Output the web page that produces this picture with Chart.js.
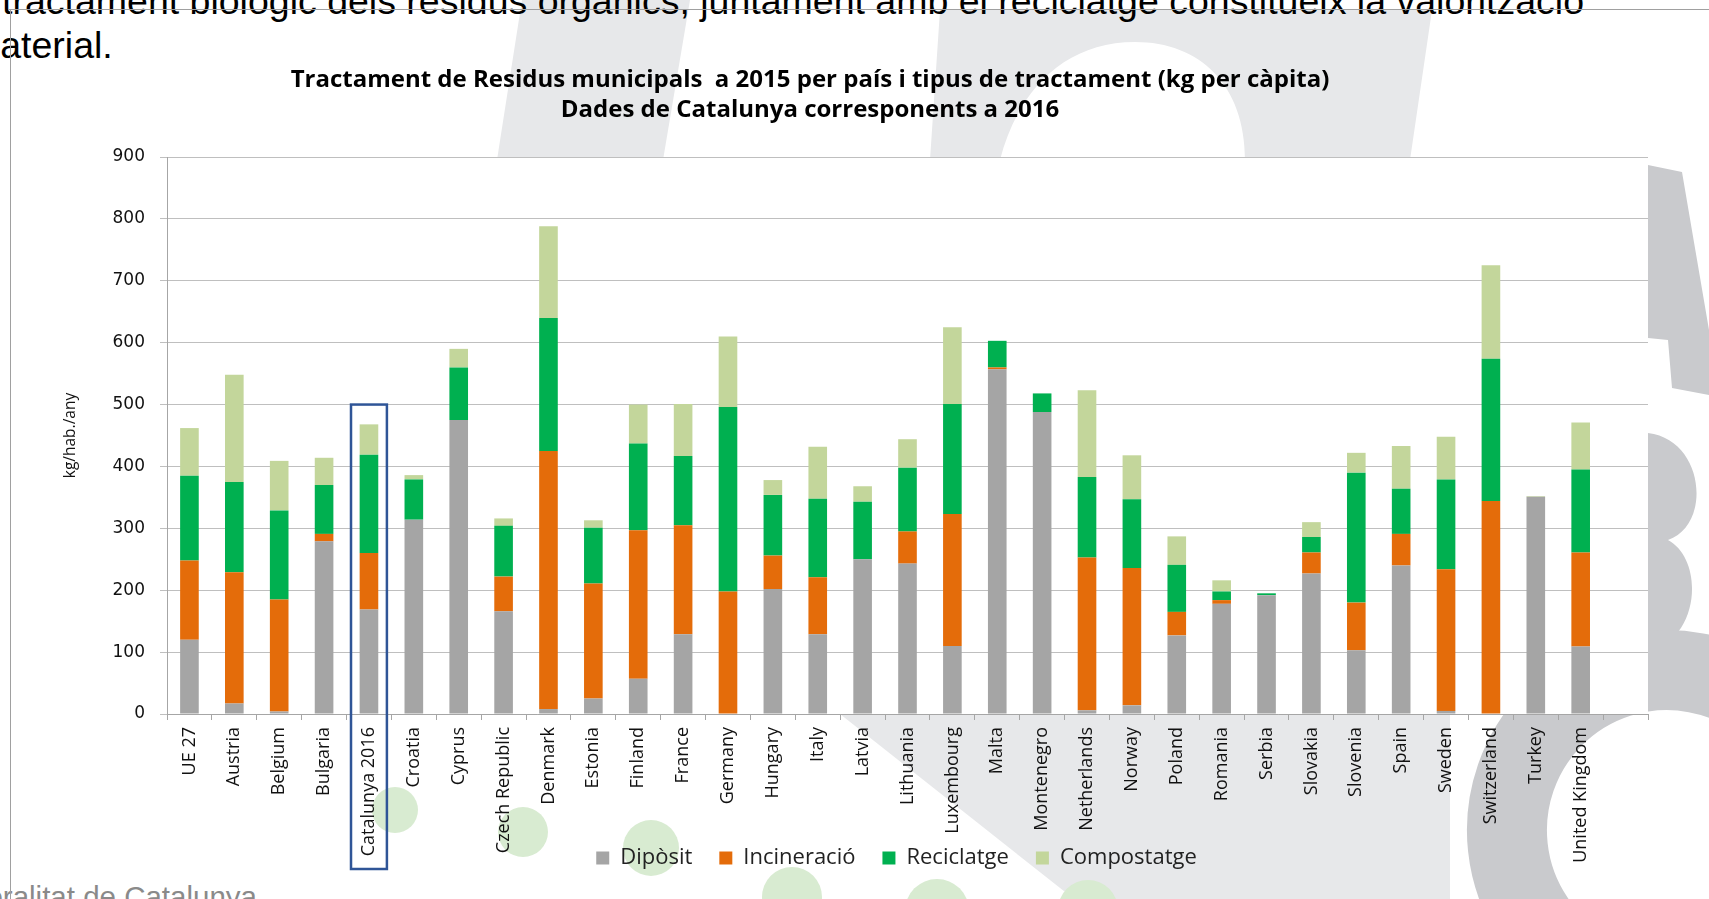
<!DOCTYPE html>
<html>
<head>
<meta charset="utf-8">
<script src="https://cdn.jsdelivr.net/npm/chart.js@4.4.1/dist/chart.umd.min.js"></script>
<style>
  html, body { margin: 0; padding: 0; width: 1709px; height: 899px; overflow: hidden; background: #fff; }
  #bg { position: absolute; left: 0; top: 0; }
  #chartBox { position: absolute; left: -28px; top: 0; width: 1737px; height: 899px; }
  .txt { position: absolute; font-family: "Liberation Sans", Arial, sans-serif; white-space: nowrap; }
  #line1 { left: 2px; top: -21px; font-size: 37.5px; line-height: 44px; color: #000; }
  #line2 { left: -31px; top: 23px; font-size: 37.5px; line-height: 44px; color: #000; }
  #footer { right: 1452px; top: 881px; font-size: 29.5px; line-height: 31px; color: #8a8a8a; }
  #hline { position: absolute; left: 8px; top: 9px; width: 1701px; height: 1px; background: #a0a0a0; }
  #vline { position: absolute; left: 10px; top: 9px; width: 1px; height: 890px; background: #a0a0a0; }
</style>
</head>
<body>

<svg id="bg" width="1709" height="899" viewBox="0 0 1709 899">
  <g fill="#e7e8ea">
    <polygon points="522,0 690,0 663,160 497,160"/>
    <path d="M940 10 L1432 10 L1410 160 L1245 160 C1245 85 1200 42 1135 42 C1065 42 1018 90 1000 160 L930 160 Z"/>
    <polygon points="840,714 1450,714 1450,899 1074,899"/>
  </g>
  <g fill="#c9cacd">
    <polygon points="1648,165 1682,172 1709,330 1709,395 1672,388 1668,340 1648,338"/>
    <path d="M1648 433 C1705 440 1712 525 1668 540 C1705 560 1700 640 1648 651 Z"/>
  </g>
  <path d="M1760 700 A160 160 0 1 0 1660 990" fill="none" stroke="#c9cacd" stroke-width="80"/>
  <g fill="#d8ebd1">
    <circle cx="395" cy="810" r="23"/>
    <circle cx="523" cy="832" r="25"/>
    <circle cx="651" cy="848" r="28"/>
    <circle cx="792" cy="897" r="30"/>
    <circle cx="937" cy="911" r="32"/>
    <circle cx="1088" cy="910" r="30"/>
  </g>
</svg>

<div id="line1" class="txt">tractament  biològic dels residus orgànics, juntament amb el reciclatge constitueix la valorització</div>
<div id="line2" class="txt">material.</div>
<div id="footer" class="txt">Generalitat de Catalunya</div>
<div id="hline"></div>
<div id="vline"></div>

<div id="chartBox"><canvas id="myChart" width="1737" height="899"></canvas></div>

<script>
const categories = ['UE 27', 'Austria', 'Belgium', 'Bulgaria', 'Catalunya 2016', 'Croatia', 'Cyprus',
  'Czech Republic', 'Denmark', 'Estonia', 'Finland', 'France', 'Germany', 'Hungary', 'Italy', 'Latvia',
  'Lithuania', 'Luxembourg', 'Malta', 'Montenegro', 'Netherlands', 'Norway', 'Poland', 'Romania', 'Serbia',
  'Slovakia', 'Slovenia', 'Spain', 'Sweden', 'Switzerland', 'Turkey', 'United Kingdom', ''];

const diposit     = [120, 17, 4, 279, 169, 314, 475, 166, 8, 25, 57, 129, 0, 202, 129, 250, 243, 110, 557, 488, 6, 14, 127, 178, 192, 227, 103, 240, 5, 0, 351, 109];
const incineracio = [128, 212, 181, 12, 91, 0, 0, 56, 417, 186, 240, 176, 198, 54, 92, 0, 52, 213, 3, 0, 247, 222, 38, 6, 0, 34, 77, 51, 229, 344, 0, 152];
const reciclatge  = [137, 146, 144, 79, 159, 65, 85, 82, 215, 90, 140, 112, 298, 98, 127, 93, 103, 178, 43, 30, 130, 111, 76, 14, 3, 25, 210, 73, 145, 230, 0, 134];
const compostatge = [77, 173, 80, 44, 49, 7, 30, 12, 148, 12, 63, 84, 114, 24, 84, 25, 46, 124, 0, 0, 140, 71, 46, 18, 0, 24, 32, 69, 69, 151, 1, 76];

const seriesNames = ['Dipòsit', 'Incineració', 'Reciclatge', 'Compostatge'];
const seriesColors = ['#a5a5a5', '#e46c0a', '#00b050', '#c3d69b'];
const yTicks = [0, 100, 200, 300, 400, 500, 600, 700, 800, 900];

const titleLines = ['Tractament de Residus municipals  a 2015 per país i tipus de tractament (kg per càpita)',
  'Dades de Catalunya corresponents a 2016'];
const yTitle = 'kg/hab./any';

// Catalunya 2016 is framed in the original
const highlightIndex = 4;
const highlightTop = 500;

const plotBackground = {
  id: 'plotBackground',
  beforeDraw(chart) {
    const {ctx, chartArea} = chart;
    ctx.save();
    ctx.fillStyle = '#fff';
    ctx.fillRect(chartArea.left, chartArea.top, chartArea.right - chartArea.left, chartArea.bottom - chartArea.top);
    ctx.restore();
  }
};

// long country names run down beside the legend row, like in the original
const labelOverflow = {
  id: 'labelOverflow',
  afterLayout(chart) {
    chart.scales.x.bottom = chart.height;
    chart.legend.left -= 11;
    chart.legend.right -= 11;
  }
};

const highlightBox = {
  id: 'highlightBox',
  afterDraw(chart) {
    const {ctx, chartArea} = chart;
    const x = chart.scales.x, y = chart.scales.y;
    const cx = x.getPixelForValue(highlightIndex);
    const half = (x.getPixelForValue(1) - x.getPixelForValue(0)) * 0.4;
    const top = y.getPixelForValue(highlightTop);
    const bottom = chartArea.bottom + 155;
    ctx.save();
    ctx.strokeStyle = '#2f5597';
    ctx.lineWidth = 2.5;
    ctx.strokeRect(cx - half, top, half * 2, bottom - top);
    ctx.restore();
  }
};

const datasets = [diposit, incineracio, reciclatge, compostatge].map((values, i) => ({
  label: seriesNames[i],
  data: values,
  backgroundColor: seriesColors[i],
  borderWidth: 0,
  categoryPercentage: 1.0,
  barPercentage: 0.415
}));

const ctx = document.getElementById('myChart').getContext('2d');
new Chart(ctx, {
  type: 'bar',
  data: { labels: categories, datasets: datasets },
  plugins: [plotBackground, labelOverflow, highlightBox],
  options: {
    responsive: false,
    animation: false,
    devicePixelRatio: 1,
    layout: { padding: { left: 0, right: 61, top: 0, bottom: 20 } },
    plugins: {
      title: {
        display: true,
        text: titleLines,
        color: '#000',
        font: { family: 'Open Sans', size: 24, weight: 'bold', lineHeight: 1.25 },
        padding: { top: 65, bottom: 32 }
      },
      legend: {
        position: 'bottom',
        fullSize: false,
        labels: {
          boxWidth: 13,
          boxHeight: 13,
          padding: 27,
          color: '#222',
          font: { family: 'Open Sans', size: 22 }
        }
      },
      tooltip: { enabled: false }
    },
    scales: {
      x: {
        stacked: true,
        grid: { display: true, drawOnChartArea: false, drawTicks: true, tickLength: 6, color: '#a6a6a6', offset: true },
        border: { color: '#a6a6a6' },
        ticks: {
          minRotation: 90,
          maxRotation: 90,
          autoSkip: false,
          padding: 7,
          color: '#111',
          font: { family: 'Open Sans', size: 18 }
        },
        afterFit(scale) { scale.height = 106; }
      },
      y: {
        stacked: true,
        min: 0,
        max: 900,
        afterBuildTicks(scale) { scale.ticks = yTicks.map(v => ({ value: v })); },
        grid: { color: '#bfbfbf', tickLength: 7, drawTicks: true },
        border: { color: '#a6a6a6' },
        ticks: {
          padding: 15,
          color: '#111',
          font: { family: 'DejaVu Sans', size: 17 }
        },
        title: {
          display: true,
          text: yTitle,
          color: '#111',
          font: { family: 'Open Sans', size: 15.5 },
          padding: { top: 89, bottom: 0 }
        },
        afterFit(scale) { scale.width = 195; }
      }
    }
  }
});
</script>
</body>
</html>
